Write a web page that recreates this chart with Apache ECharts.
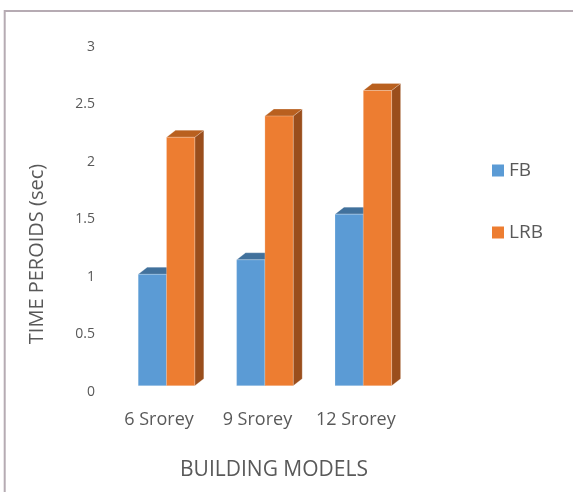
<!DOCTYPE html>
<html>
<head>
<meta charset="utf-8">
<script src="https://cdn.jsdelivr.net/npm/echarts@6/dist/echarts.min.js"></script>
<style>
html,body{margin:0;padding:0;background:#fff;}
#c{width:573px;height:492px;}
</style>
</head>
<body>
<div id="c"></div>
<script>
var categories = ['6 Srorey', '9 Srorey', '12 Srorey'];
var fbValues = [1.0, 1.13, 1.54];
var lrbValues = [2.23, 2.42, 2.65];
var yTicks = [0, 0.5, 1, 1.5, 2, 2.5, 3];

var FONT = '"Open Sans", sans-serif';
var TXT = '#595959';
var BAR_W = 28.3, DX = 9, DY = 7;

function bar3d(side, front, top, sideCol) {
  return function (params, api) {
    var idx = api.value(0);
    var base = api.coord([idx, 0]);
    var tp = api.coord([idx, api.value(1)]);
    var cx = base[0], yb = base[1], yt = tp[1];
    var x0 = side === 'left' ? cx - BAR_W : cx;
    var x1 = x0 + BAR_W;
    return {
      type: 'group',
      children: [
        { type: 'polygon', shape: { points: [[x1, yt], [x1 + DX, yt - DY], [x1 + DX, yb - DY], [x1, yb]] },
          style: { fill: sideCol, stroke: 'rgba(255,255,255,0.35)', lineWidth: 0.6 } },
        { type: 'polygon', shape: { points: [[x0, yt], [x0 + DX, yt - DY], [x1 + DX, yt - DY], [x1, yt]] },
          style: { fill: top, stroke: 'rgba(255,255,255,0.35)', lineWidth: 0.6 } },
        { type: 'rect', shape: { x: x0, y: yt, width: BAR_W, height: yb - yt },
          style: { fill: front, stroke: 'rgba(255,255,255,0.35)', lineWidth: 0.6 } }
      ]
    };
  };
}

var chart = echarts.init(document.getElementById('c'), null, { renderer: 'canvas' });
chart.setOption({
  animation: false,
  backgroundColor: '#ffffff',
  textStyle: { fontFamily: FONT },
  grid: [
    { left: 117.3, right: 160.5, top: 51.5, bottom: 106.3 },
    { left: 103, right: 160.5, top: 46.7, bottom: 100.3 }
  ],
  xAxis: [
    { type: 'category', gridIndex: 0, data: categories,
      axisLine: { show: false }, axisTick: { show: false },
      axisLabel: { interval: 0, hideOverlap: false, fontSize: 18, color: TXT, fontFamily: FONT, margin: 25, padding: [0, 15, 0, 0] } },
    { type: 'category', gridIndex: 1, data: categories, show: false }
  ],
  yAxis: [
    { type: 'value', gridIndex: 0, min: 0, max: 3, interval: 0.5, show: false },
    { type: 'value', gridIndex: 1, min: 0, max: 3, interval: 0.5,
      axisLine: { show: false }, axisTick: { show: false }, splitLine: { show: false },
      axisLabel: { fontSize: 14, color: TXT, fontFamily: FONT, margin: 8,
        formatter: function (v) { return yTicks.indexOf(v) >= 0 ? String(v) : ''; } } }
  ],
  legend: {
    orient: 'vertical', left: 487, top: 156, itemGap: 43,
    itemWidth: 12, itemHeight: 12, icon: 'rect',
    textStyle: { fontSize: 19, color: TXT, fontFamily: FONT },
    data: [{ name: 'FB', itemStyle: { color: '#5B9BD5' } }, { name: 'LRB', itemStyle: { color: '#ED7D31' } }]
  },
  series: [
    { name: 'FB', type: 'custom', xAxisIndex: 0, yAxisIndex: 0,
      itemStyle: { color: '#5B9BD5' },
      renderItem: bar3d('left', '#5B9BD5', '#41719C', '#3A6690'),
      encode: { x: 0, y: 1 },
      data: fbValues.map(function (v, i) { return [i, v]; }) },
    { name: 'LRB', type: 'custom', xAxisIndex: 0, yAxisIndex: 0,
      itemStyle: { color: '#ED7D31' },
      renderItem: bar3d('right', '#ED7D31', '#B9601F', '#9A4E1C'),
      encode: { x: 0, y: 1 },
      data: lrbValues.map(function (v, i) { return [i, v]; }) }
  ],
  graphic: [
    { type: 'rect', silent: true, shape: { x: 4.7, y: 11, width: 700, height: 700 },
      style: { fill: 'none', stroke: '#B6ABB3', lineWidth: 2 } },
    { type: 'text', x: 37, y: 254, rotation: Math.PI / 2,
      style: { text: 'TIME PEROIDS (sec)', fontSize: 20, fontFamily: FONT, fill: TXT, align: 'center', verticalAlign: 'middle' } },
    { type: 'text', x: 274, y: 470,
      style: { text: 'BUILDING MODELS', fontSize: 21, fontFamily: FONT, fill: TXT, align: 'center', verticalAlign: 'middle' } }
  ]
});
</script>
</body>
</html>
